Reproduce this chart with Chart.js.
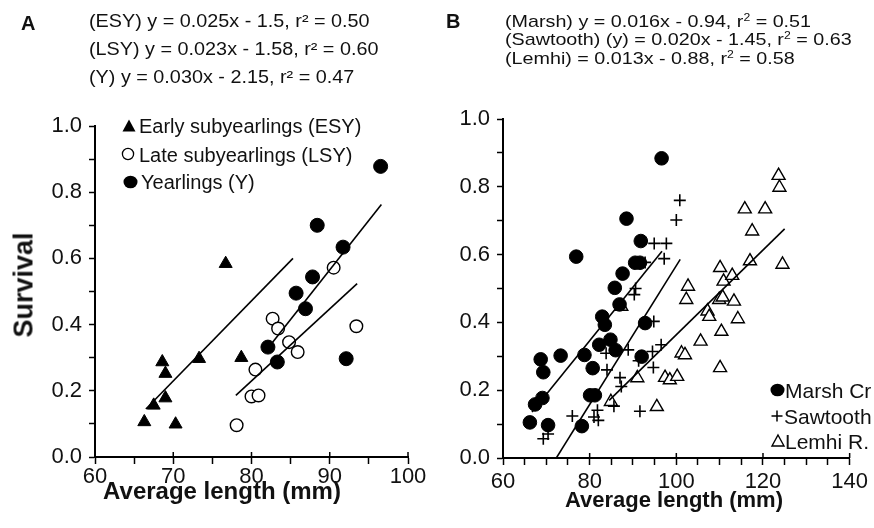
<!DOCTYPE html>
<html><head><meta charset="utf-8">
<script src="https://cdn.jsdelivr.net/npm/chart.js@4.4.1/dist/chart.umd.min.js"></script>
<style>
html,body{margin:0;padding:0;background:#fff;}
#wrap{position:relative;width:874px;height:528px;overflow:hidden;font-family:"Liberation Sans",Arial,sans-serif;color:#111;}
canvas{position:absolute;top:0;}
.t{position:absolute;white-space:nowrap;line-height:1;}
.hdA{font-size:18px;transform:scaleX(1.1);transform-origin:0 0;}
.hdB{font-size:17px;transform:scaleX(1.16);transform-origin:0 0;}
.bold{font-weight:bold;}
.lgA{font-size:20px;}
.lgB{font-size:21px;}
.mk{position:absolute;overflow:visible;}
sup{font-size:0.62em;vertical-align:0.55em;line-height:0;}
</style></head>
<body>
<div id="wrap">
<canvas id="ca" width="437" height="528" style="left:0"></canvas>
<canvas id="cb" width="437" height="528" style="left:437px"></canvas>

<div class="t bold" style="left:21px;top:13px;font-size:20px">A</div>
<div class="t hdA" style="left:89px;top:11.5px">(ESY) y = 0.025x - 1.5, r² = 0.50</div>
<div class="t hdA" style="left:89px;top:39.8px">(LSY) y = 0.023x - 1.58, r² = 0.60</div>
<div class="t hdA" style="left:89px;top:68.1px">(Y) y = 0.030x - 2.15, r² = 0.47</div>

<div class="t bold" style="left:446px;top:11.4px;font-size:20px">B</div>
<div class="t hdB" style="left:505px;top:12.9px">(Marsh) y = 0.016x - 0.94, r<sup>2</sup> = 0.51</div>
<div class="t hdB" style="left:505px;top:31.3px">(Sawtooth) (y) = 0.020x - 1.45, r<sup>2</sup> = 0.63</div>
<div class="t hdB" style="left:505px;top:49.6px">(Lemhi) = 0.013x - 0.88, r<sup>2</sup> = 0.58</div>

<div class="t bold" style="left:24px;top:285px;font-size:27px;transform:translate(-50%,-50%) rotate(-90deg)">Survival</div>
<div class="t bold" style="left:222px;top:491px;font-size:24px;transform:translate(-50%,-50%)">Average length (mm)</div>
<div class="t bold" style="left:674px;top:500px;font-size:22px;transform:translate(-50%,-50%)">Average length (mm)</div>

<!-- legend A -->
<svg class="mk" style="left:122px;top:119px" width="14" height="14"><polygon points="7,0.5 13.5,12.5 0.5,12.5" fill="#000"/></svg>
<div class="t lgA" style="left:139px;top:116.2px">Early subyearlings (ESY)</div>
<svg class="mk" style="left:121px;top:147px" width="14" height="14"><circle cx="7" cy="7" r="5.6" fill="#fff" stroke="#000" stroke-width="1.3"/></svg>
<div class="t lgA" style="left:139px;top:144.5px">Late subyearlings (LSY)</div>
<svg class="mk" style="left:123px;top:175px" width="15" height="14"><ellipse cx="7.5" cy="7" rx="7" ry="6.3" fill="#000"/></svg>
<div class="t lgA" style="left:141px;top:171.9px">Yearlings (Y)</div>

<!-- legend B -->
<svg class="mk" style="left:770px;top:383px" width="15" height="14"><ellipse cx="7.5" cy="7" rx="7" ry="6.3" fill="#000"/></svg>
<div class="t lgB" style="left:785px;top:379.7px">Marsh Cr</div>
<svg class="mk" style="left:771px;top:410px" width="12" height="12"><path d="M6 0.5V11.5M0.5 6H11.5" stroke="#000" stroke-width="1.5"/></svg>
<div class="t lgB" style="left:784px;top:406.4px">Sawtooth</div>
<svg class="mk" style="left:771px;top:434px" width="14" height="13"><polygon points="7,1 13,12 1,12" fill="#fff" stroke="#000" stroke-width="1.4"/></svg>
<div class="t lgB" style="left:785px;top:431.4px">Lemhi R.</div>
</div>

<script>
// ---------- Panel A data ----------
const esyLength   = [66.3, 67.5, 68.6, 69.0, 69.0, 70.3, 73.3, 76.7, 78.7];
const esySurvival = [0.106, 0.156, 0.287, 0.252, 0.178, 0.099, 0.297, 0.584, 0.300];
const lsyLength   = [78.1, 80.0, 80.9, 80.5, 82.7, 83.4, 84.8, 85.9, 90.5, 93.4];
const lsySurvival = [0.096, 0.183, 0.186, 0.264, 0.418, 0.388, 0.347, 0.317, 0.572, 0.395];
const yLength     = [82.1, 83.3, 85.7, 86.9, 87.8, 88.4, 91.7, 92.1, 96.5];
const ySurvival   = [0.332, 0.287, 0.495, 0.448, 0.544, 0.700, 0.634, 0.297, 0.878];
const esyFitLength = [66.5, 85.3];  const esyFitSurvival = [0.145, 0.600];
const lsyFitLength = [78.0, 93.5];  const lsyFitSurvival = [0.186, 0.524];
const yFitLength   = [82.7, 96.6];  const yFitSurvival   = [0.347, 0.763];

// ---------- Panel B data ----------
const marshLength   = [66.2, 67.4, 69.1, 68.7, 69.3, 70.4, 73.3, 76.9, 78.2, 78.8, 80.7, 80.1, 81.2, 82.2, 82.9, 83.5, 84.8, 86.0, 86.9, 85.8, 87.6, 88.5, 90.5, 91.6, 91.8, 92.0, 92.8, 96.6];
const marshSurvival = [0.105, 0.158, 0.177, 0.291, 0.253, 0.097, 0.302, 0.594, 0.094, 0.304, 0.265, 0.185, 0.185, 0.334, 0.417, 0.393, 0.349, 0.318, 0.453, 0.502, 0.544, 0.706, 0.576, 0.576, 0.640, 0.299, 0.398, 0.884];
const sawLength   = [69.3, 70.4, 76.0, 81.0, 81.8, 82.0, 83.8, 84.0, 85.6, 87.0, 87.3, 88.9, 90.3, 90.6, 91.3, 91.6, 92.8, 94.5, 94.7, 94.8, 94.9, 96.5, 97.2, 97.7, 100.0, 100.8];
const sawSurvival = [0.057, 0.071, 0.124, 0.121, 0.141, 0.111, 0.309, 0.260, 0.153, 0.237, 0.211, 0.319, 0.482, 0.500, 0.287, 0.138, 0.577, 0.314, 0.267, 0.403, 0.633, 0.334, 0.588, 0.633, 0.702, 0.760];
const lemhiLength   = [84.9, 87.3, 91.0, 95.5, 97.4, 98.5, 100.2, 101.2, 102.0, 102.3, 102.7, 105.6, 107.2, 107.6, 109.9, 110.1, 110.1, 110.4, 110.7, 110.9, 112.9, 113.3, 114.2, 115.8, 117.0, 117.5, 120.5, 123.6, 123.8, 124.5];
const lemhiSurvival = [0.166, 0.447, 0.236, 0.151, 0.237, 0.230, 0.240, 0.309, 0.304, 0.467, 0.506, 0.344, 0.433, 0.417, 0.467, 0.561, 0.266, 0.373, 0.474, 0.521, 0.538, 0.462, 0.410, 0.734, 0.581, 0.669, 0.734, 0.833, 0.798, 0.571];
const marshFitLength = [66.7, 96.7];  const marshFitSurvival = [0.136, 0.610];
const sawFitLength   = [72.3, 100.9]; const sawFitSurvival   = [0.000, 0.586];
const lemhiFitLength = [84.5, 125.0]; const lemhiFitSurvival = [0.170, 0.676];

// ---------- Ticks ----------
const yTickValues = [0, 0.1, 0.2, 0.3, 0.4, 0.5, 0.6, 0.7, 0.8, 0.9, 1.0];
const yTickLabels = ['0.0', '', '0.2', '', '0.4', '', '0.6', '', '0.8', '', '1.0'];
const xTickValuesA = [60, 65, 70, 75, 80, 85, 90, 95, 100];
const xTickLabelsA = ['60', '', '70', '', '80', '', '90', '', '100'];
const xTickValuesB = [60, 65, 70, 75, 80, 85, 90, 95, 100, 105, 110, 115, 120, 125, 130, 135, 140];
const xTickLabelsB = ['60', '', '', '', '80', '', '', '', '100', '', '', '', '120', '', '', '', '140'];

const FONT = '"Liberation Sans", Arial, sans-serif';
const pts = (xs, ys) => xs.map((x, i) => ({x: x, y: ys[i]}));
const fit = (xs, ys) => ({data: pts(xs, ys), showLine: true, borderColor: '#000', borderWidth: 1.6, pointRadius: 0, fill: false});

const crossTicks = {
  id: 'crossTicks',
  afterDraw(chart, args, opts) {
    const s = chart.scales.x, ctx = chart.ctx, y = chart.chartArea.bottom;
    ctx.save(); ctx.strokeStyle = '#000'; ctx.lineWidth = 1.5;
    s.ticks.forEach((t, i) => {
      if (opts.labels[i]) {
        const px = s.getPixelForValue(t.value);
        ctx.beginPath(); ctx.moveTo(px, y - 5); ctx.lineTo(px, y); ctx.stroke();
      }
    });
    ctx.restore();
  }
};

function makeChart(id, datasets, cfg) {
  return new Chart(document.getElementById(id), {
    type: 'scatter',
    data: {datasets: datasets},
    plugins: [crossTicks],
    options: {
      responsive: false, animation: false, events: [], devicePixelRatio: 1,
      layout: {padding: cfg.padding},
      plugins: {legend: {display: false}, tooltip: {enabled: false}, crossTicks: {labels: cfg.xLabels}},
      scales: {
        x: {
          type: 'linear', min: cfg.xMin, max: cfg.xMax,
          afterBuildTicks: s => { s.ticks = cfg.xValues.map(v => ({value: v})); },
          afterFit: s => { s.height = cfg.xHeight; },
          ticks: {autoSkip: false, maxRotation: 0, padding: cfg.xPad, color: '#111',
                  font: {family: FONT, size: 22, lineHeight: 1},
                  callback: (v, i) => cfg.xLabels[i]},
          grid: {display: true, drawOnChartArea: false, drawTicks: true, tickLength: 7, tickWidth: 1.5, tickColor: '#000'},
          border: {display: true, color: '#000', width: 2}
        },
        y: {
          type: 'linear', min: 0, max: 1,
          afterBuildTicks: s => { s.ticks = yTickValues.map(v => ({value: v})); },
          afterFit: s => { s.width = cfg.yWidth; },
          ticks: {autoSkip: false, padding: 7, color: '#111',
                  font: {family: FONT, size: 22, lineHeight: 1},
                  callback: (v, i) => yTickLabels[i]},
          grid: {display: true, drawOnChartArea: false, drawTicks: true, tickLength: 6, tickWidth: 1.5, tickColor: '#000'},
          border: {display: true, color: '#000', width: 2}
        }
      }
    }
  });
}

makeChart('ca', [
  fit(esyFitLength, esyFitSurvival),
  fit(lsyFitLength, lsyFitSurvival),
  fit(yFitLength, yFitSurvival),
  {label: 'Yearlings (Y)', data: pts(yLength, ySurvival), pointStyle: 'circle', pointRadius: 7, backgroundColor: '#000', borderColor: '#000', borderWidth: 1},
  {label: 'Late subyearlings (LSY)', data: pts(lsyLength, lsySurvival), pointStyle: 'circle', pointRadius: 6.3, backgroundColor: '#fff', borderColor: '#000', borderWidth: 1.4},
  {label: 'Early subyearlings (ESY)', data: pts(esyLength, esySurvival), pointStyle: 'triangle', pointRadius: 7.5, backgroundColor: '#000', borderColor: '#000', borderWidth: 1}
], {padding: {left: 0, top: 126, right: 29, bottom: 21}, yWidth: 95, xHeight: 50, xPad: 2,
    xMin: 60, xMax: 100, xValues: xTickValuesA, xLabels: xTickLabelsA});

makeChart('cb', [
  fit(marshFitLength, marshFitSurvival),
  fit(sawFitLength, sawFitSurvival),
  fit(lemhiFitLength, lemhiFitSurvival),
  {label: 'Marsh Cr', data: pts(marshLength, marshSurvival), pointStyle: 'circle', pointRadius: 6.8, backgroundColor: '#000', borderColor: '#000', borderWidth: 1},
  {label: 'Sawtooth', data: pts(sawLength, sawSurvival), pointStyle: 'cross', pointRadius: 6, backgroundColor: '#000', borderColor: '#000', borderWidth: 1.6},
  {label: 'Lemhi R.', data: pts(lemhiLength, lemhiSurvival), pointStyle: 'triangle', pointRadius: 7.5, backgroundColor: '#fff', borderColor: '#000', borderWidth: 1.4}
], {padding: {left: 0, top: 119, right: 20, bottom: 20}, yWidth: 66, xHeight: 50, xPad: 6,
    xMin: 60, xMax: 140, xValues: xTickValuesB, xLabels: xTickLabelsB});
</script>
</body></html>
